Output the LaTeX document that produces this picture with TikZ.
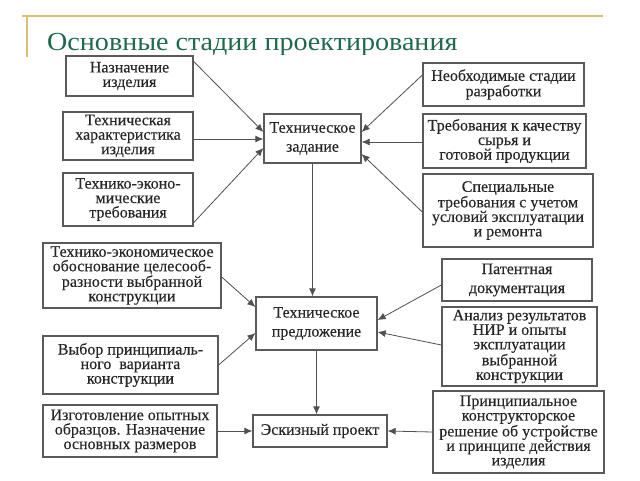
\documentclass[tikz,border=0pt]{standalone}
\usepackage{fontspec}
\setmainfont{Liberation Serif}
\newfontfamily\boxfont[FakeBold=0.25]{Liberation Serif}
\newfontfamily\titlefont[FakeStretch=1.08]{Liberation Serif}
\usetikzlibrary{arrows.meta}
\definecolor{gold}{HTML}{D9BF72}
\definecolor{titlegreen}{HTML}{1F6A4C}
\definecolor{boxline}{HTML}{5A5A5A}
\definecolor{arrowline}{HTML}{505050}
\tikzset{
  bx/.style={draw=boxline, line width=1.3pt, fill=white, align=center, inner sep=0pt,
    font=\boxfont\fontsize{16}{14.5}\selectfont, text=black!85},
  bxwide/.style={bx, font=\boxfont\fontsize{16}{19}\selectfont},
  conn/.style={draw=arrowline, line width=0.8pt, -{Latex[length=8pt,width=7pt]}},
  goldline/.style={draw=gold, line width=1.5pt},
  titletext/.style={anchor=base west, inner sep=0pt, text=titlegreen,
    font=\titlefont\fontsize{26}{28}\selectfont}
}
\begin{document}
\begin{tikzpicture}[x=1pt,y=-1pt]
\useasboundingbox[fill=white] (0,0) rectangle (640,480);
\draw[goldline] (22,16) -- (603,16);
\draw[goldline] (27,16) -- (27,57);
\begin{scope}
\clip (0,0) rectangle (640,54);
\node[titletext] (title) at (47,50) {Основные стадии проектирования};
\end{scope}

\node[bx, minimum width=127, minimum height=40] (b1) at (129.5,76) {Назначение\\изделия};
\node[bx, minimum width=130, minimum height=48] (b2) at (128,136) {Техническая\\характеристика\\изделия};
\node[bx, minimum width=130, minimum height=53] (b3) at (128,199.5) {Технико-эконо-\\мические\\требования};
\node[bxwide, minimum width=97, minimum height=49] (tz) at (312.5,138.5) {Техническое\\задание};
\node[bx, minimum width=161, minimum height=43] (b5) at (503.5,84.5) {Необходимые стадии\\разработки};
\node[bx, minimum width=163, minimum height=54] (b6) at (504.5,141) {Требования к качеству\\сырья и\\готовой продукции};
\node[bx, minimum width=170, minimum height=73] (b7) at (508,210.5) {Специальные\\требования с учетом\\условий эксплуатации\\и ремонта};
\node[bx, minimum width=178, minimum height=65] (b8) at (132,275.5) {Технико-экономическое\\обоснование целесооб-\\разности выбранной\\конструкции};
\node[bx, minimum width=175, minimum height=58] (b9) at (130.5,365) {Выбор принципиаль-\\ного~ варианта\\конструкции};
\node[bx, minimum width=174, minimum height=52] (b10) at (130,431) {Изготовление опытных\\образцов. Назначение\\основных размеров};
\node[bxwide, minimum width=121, minimum height=53] (tp) at (316.5,323.5) {Техническое\\предложение};
\node[bxwide, minimum width=150, minimum height=42] (b12) at (517,280) {Патентная\\документация};
\node[bx, minimum width=155, minimum height=79] (b13) at (519.5,346.5) {Анализ результатов\\НИР и опыты\\эксплуатации\\выбранной\\конструкции};
\node[bx, minimum width=171, minimum height=82] (b14) at (518.5,432) {Принципиальное\\конструкторское\\решение об устройстве\\и принципе действия\\изделия};
\node[bx, minimum width=134, minimum height=32] (esk) at (320,431) {Эскизный проект};

\draw[conn] ([yshift=-6pt]b1.north east) -- ([yshift=6.5pt]tz.west);
\draw[conn] ([yshift=-3pt]b2.east) -- ([yshift=-0.5pt]tz.west);
\draw[conn] ([yshift=4pt]b3.south east) -- ([yshift=-9.5pt]tz.west);
\draw[conn] ([yshift=9.5pt]b5.west) -- ([yshift=6.5pt]tz.east);
\draw[conn] ([yshift=-1pt]b6.west) -- ([yshift=-3.5pt]tz.east);
\draw[conn] ([yshift=-1.5pt]b7.west) -- ([yshift=-15.5pt]tz.east);
\draw[conn] (tz.south) -- (tz.south |- tp.north);
\draw[conn] ([yshift=-1.5pt]b8.east) -- ([yshift=16.5pt]tp.west);
\draw[conn] (b9.east) -- ([yshift=-9.5pt]tp.west);
\draw[conn] ([yshift=-5pt]b12.west) -- ([yshift=3.5pt]tp.east);
\draw[conn] ([yshift=1.5pt]b13.west) -- ([yshift=-8.5pt]tp.east);
\draw[conn] (tp.south) -- (tp.south |- esk.north);
\draw[conn] (b10.east) -- (esk.west);
\draw[conn] (b14.west) -- (esk.east);
\end{tikzpicture}
\end{document}
